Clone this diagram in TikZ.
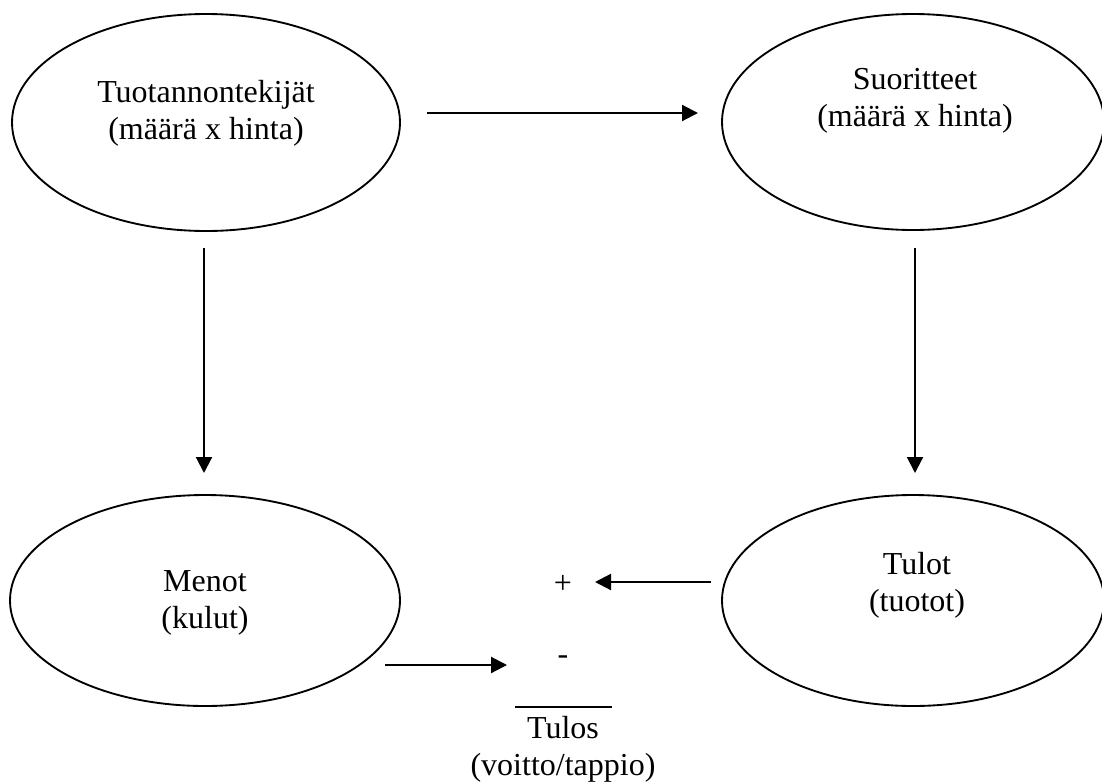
\documentclass[tikz,border=0pt]{standalone}
\usepackage{fontspec}
\setmainfont{Liberation Serif}
\usetikzlibrary{arrows.meta,shapes.geometric}

\begin{document}
\begin{tikzpicture}[x=0.75pt,y=-0.75pt,
  oval/.style={draw, ellipse, line width=1.4pt, inner sep=0pt},
  lbl/.style={align=center, inner sep=0pt, font=\fontsize{24}{28}\selectfont},
  flow/.style={line width=1.6pt, -{Triangle[length=12pt,width=12pt]}},
  sign/.style={inner sep=0pt, font=\fontsize{24}{28}\selectfont}]
\useasboundingbox (0,0) rectangle (1102,782);

% the four accounting quantities
\node[oval, minimum width=388*0.75pt, minimum height=217*0.75pt] (tek) at (206,122.5) {};
\node[oval, minimum width=382*0.75pt, minimum height=216*0.75pt] (suo) at (913,122) {};
\node[oval, minimum width=390*0.75pt, minimum height=211*0.75pt] (men) at (205,600.5) {};
\node[oval, minimum width=382*0.75pt, minimum height=211*0.75pt] (tul) at (913,600.5) {};

\node[lbl] (tektxt) at (206,113) {Tuotannontekijät\\(määrä x hinta)};
\node[lbl] (suotxt) at (915,101) {Suoritteet\\(määrä x hinta)};
\node[lbl] (mentxt) at (205,603) {Menot\\(kulut)};
\node[lbl] (tultxt) at (917,585) {Tulot\\(tuotot)};

% result calculation
\node[sign] (plus) at (563,584) {+};
\node[sign] (minus) at (563,660) {-};
\coordinate (barL) at (515,707);
\coordinate (barR) at (612,707);
\draw[line width=1.5pt] (barL) -- (barR);
\node[lbl] (tulos) at (563,749) {Tulos\\(voitto/tappio)};

% arrow end points
\coordinate (a1s) at (427,113);  \coordinate (a1e) at (698,113);
\coordinate (a2s) at (204,248);  \coordinate (a2e) at (204,473);
\coordinate (a3s) at (915,248);  \coordinate (a3e) at (915,473);
\coordinate (a4s) at (711,582);  \coordinate (a4e) at (595,582);
\coordinate (a5s) at (385,665);  \coordinate (a5e) at (507,665);

\draw[flow] (a1s) -- (a1e);
\draw[flow] (a2s) -- (a2e);
\draw[flow] (a3s) -- (a3e);
\draw[flow] (a4s) -- (a4e);
\draw[flow] (a5s) -- (a5e);
\end{tikzpicture}
\end{document}
